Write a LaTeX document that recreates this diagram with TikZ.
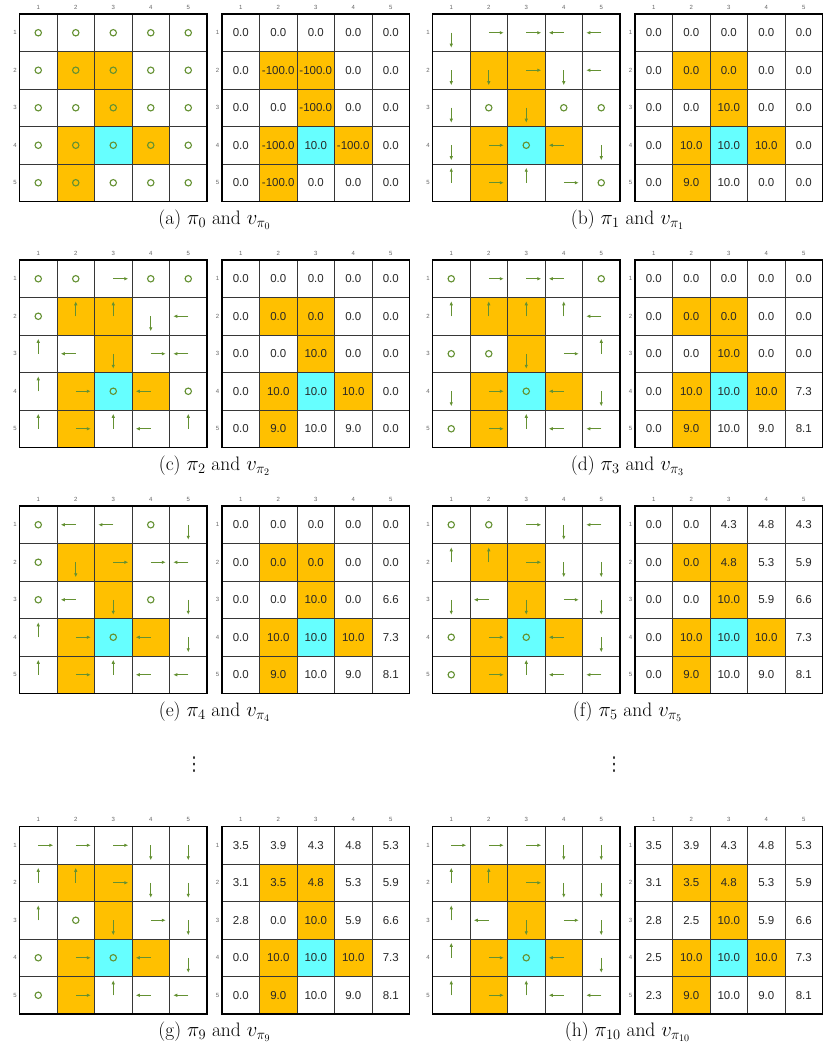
\documentclass[tikz,border=0pt]{standalone}
\usepackage{fontspec}
\newfontfamily\arialfont{Liberation Sans}
\newfontfamily\dotsfont{DejaVu Sans}
\usetikzlibrary{arrows.meta}
\definecolor{cellorange}{RGB}{255,192,0}
\definecolor{cellcyan}{RGB}{102,255,255}
\definecolor{polgreen}{RGB}{100,145,50}
\definecolor{gridgray}{RGB}{55,55,55}
\definecolor{valtext}{RGB}{40,40,40}
\tikzset{
  pol/.style={draw=polgreen, line width=1.25pt, -{Latex[length=4pt,width=3.5pt]}},
  polcirc/.style={draw=polgreen, line width=1.1pt},
  innerline/.style={draw=gridgray, line width=0.9pt},
  outerline/.style={draw=black, line width=1.3pt},
  valnode/.style={font=\arialfont\fontsize{11.5}{13}\selectfont, text=valtext, inner sep=0pt},
  idxnode/.style={font=\arialfont\fontsize{6}{7}\selectfont, text=black!60, inner sep=0pt},
  capnode/.style={font=\fontsize{19.5}{22}\selectfont, inner sep=0pt},
  dotsnode/.style={font=\dotsfont\fontsize{19}{21}\selectfont, text=black!80, inner sep=0pt},
}
\newcommand\ArrR[1]{\draw[pol] (#1) -- ++(15,0);}
\newcommand\ArrL[1]{\draw[pol] (#1) -- ++(-15,0);}
\newcommand\ArrU[1]{\draw[pol] (#1) -- ++(0,-15);}
\newcommand\ArrD[1]{\draw[pol] (#1) -- ++(0,15);}
\newcommand\ArrO[1]{\draw[polcirc] (#1) circle[radius=3.2pt];}
\newcommand\Pair[6]{%
\begin{scope}[shift={(#2,#3)}]
  \foreach \gx in {0,202.5}{
    \foreach \rr/\cc/\colr in {1/1/cellorange,1/2/cellorange,2/2/cellorange,3/1/cellorange,3/3/cellorange,4/1/cellorange,3/2/cellcyan}{
      \fill[\colr] ({\gx+\cc*37.5},{\rr*37.5}) rectangle ++(37.5,37.5);
    }
    \foreach \k in {1,...,4}{
      \draw[innerline] ({\gx+\k*37.5},0) -- ++(0,187.5);
      \draw[innerline] (\gx,{\k*37.5}) -- ++(187.5,0);
    }
    \draw[outerline] (\gx,0) rectangle ++(187.5,187.5);
    \foreach \k in {1,...,5}{
      \node[idxnode] at ({\gx+(\k-0.5)*37.5},-7) {\k};
      \node[idxnode] at ({\gx-4.5},{(\k-0.5)*37.5}) {\k};
    }
  }
  \foreach \code [count=\i from 0] in {#4}{
    \edef\r{\the\numexpr(\i-2)/5\relax}
    \edef\c{\the\numexpr\i-5*\r\relax}
    \coordinate (#1p\r\c) at ({(\c+0.5)*37.5},{(\r+0.5)*37.5});
    \csname Arr\code\endcsname{#1p\r\c}
  }
  \foreach \val [count=\i from 0] in {#5}{
    \edef\r{\the\numexpr(\i-2)/5\relax}
    \edef\c{\the\numexpr\i-5*\r\relax}
    \node[valnode] (#1v\r\c) at ({202.5+(\c+0.5)*37.5},{(\r+0.5)*37.5}) {\val};
  }
  \node[capnode] (#1cap) at (195,205.5) {#6};
\end{scope}}
\begin{document}
\begin{tikzpicture}[x=1pt,y=-1pt]
\fill[white] (0,0) rectangle (830,1043);
\useasboundingbox (0,0) rectangle (830,1043);
\Pair{A}{19.5}{14}{O,O,O,O,O, O,O,O,O,O, O,O,O,O,O, O,O,O,O,O, O,O,O,O,O}
{0.0,0.0,0.0,0.0,0.0, 0.0,-100.0,-100.0,0.0,0.0, 0.0,0.0,-100.0,0.0,0.0, 0.0,-100.0,10.0,-100.0,0.0, 0.0,-100.0,0.0,0.0,0.0}
{(a) $\pi_0$ and $v_{\pi_0}$}
\Pair{B}{432.5}{14}{D,R,R,L,L, D,D,R,D,L, D,O,D,O,O, D,R,O,L,D, U,R,U,R,O}
{0.0,0.0,0.0,0.0,0.0, 0.0,0.0,0.0,0.0,0.0, 0.0,0.0,10.0,0.0,0.0, 0.0,10.0,10.0,10.0,0.0, 0.0,9.0,10.0,0.0,0.0}
{(b) $\pi_1$ and $v_{\pi_1}$}
\Pair{C}{19.5}{260}{O,O,R,O,O, O,U,U,D,L, U,L,D,R,L, U,R,O,L,O, U,R,U,L,U}
{0.0,0.0,0.0,0.0,0.0, 0.0,0.0,0.0,0.0,0.0, 0.0,0.0,10.0,0.0,0.0, 0.0,10.0,10.0,10.0,0.0, 0.0,9.0,10.0,9.0,0.0}
{(c) $\pi_2$ and $v_{\pi_2}$}
\Pair{D}{432.5}{260}{O,R,R,L,O, U,U,U,U,L, O,O,D,R,U, D,R,O,L,D, O,R,U,L,L}
{0.0,0.0,0.0,0.0,0.0, 0.0,0.0,0.0,0.0,0.0, 0.0,0.0,10.0,0.0,0.0, 0.0,10.0,10.0,10.0,7.3, 0.0,9.0,10.0,9.0,8.1}
{(d) $\pi_3$ and $v_{\pi_3}$}
\Pair{E}{19.5}{506}{O,L,L,O,D, O,D,R,R,L, O,L,D,O,D, U,R,O,L,D, U,R,U,L,L}
{0.0,0.0,0.0,0.0,0.0, 0.0,0.0,0.0,0.0,0.0, 0.0,0.0,10.0,0.0,6.6, 0.0,10.0,10.0,10.0,7.3, 0.0,9.0,10.0,9.0,8.1}
{(e) $\pi_4$ and $v_{\pi_4}$}
\Pair{F}{432.5}{506}{O,O,R,D,L, U,U,R,D,D, D,L,D,R,D, O,R,O,L,D, O,R,U,L,L}
{0.0,0.0,4.3,4.8,4.3, 0.0,0.0,4.8,5.3,5.9, 0.0,0.0,10.0,5.9,6.6, 0.0,10.0,10.0,10.0,7.3, 0.0,9.0,10.0,9.0,8.1}
{(f) $\pi_5$ and $v_{\pi_5}$}
\Pair{G}{19.5}{826.5}{R,R,R,D,D, U,U,R,D,D, U,O,D,R,D, O,R,O,L,D, O,R,U,L,L}
{3.5,3.9,4.3,4.8,5.3, 3.1,3.5,4.8,5.3,5.9, 2.8,0.0,10.0,5.9,6.6, 0.0,10.0,10.0,10.0,7.3, 0.0,9.0,10.0,9.0,8.1}
{(g) $\pi_9$ and $v_{\pi_9}$}
\Pair{H}{432.5}{826.5}{R,R,R,D,D, U,U,R,D,D, U,L,D,R,D, U,R,O,L,D, U,R,U,L,L}
{3.5,3.9,4.3,4.8,5.3, 3.1,3.5,4.8,5.3,5.9, 2.8,2.5,10.0,5.9,6.6, 2.5,10.0,10.0,10.0,7.3, 2.3,9.0,10.0,9.0,8.1}
{(h) $\pi_{10}$ and $v_{\pi_{10}}$}
\node[dotsnode] (dotsL) at (194,765) {⋮};
\node[dotsnode] (dotsR) at (614,765) {⋮};
\end{tikzpicture}
\end{document}
